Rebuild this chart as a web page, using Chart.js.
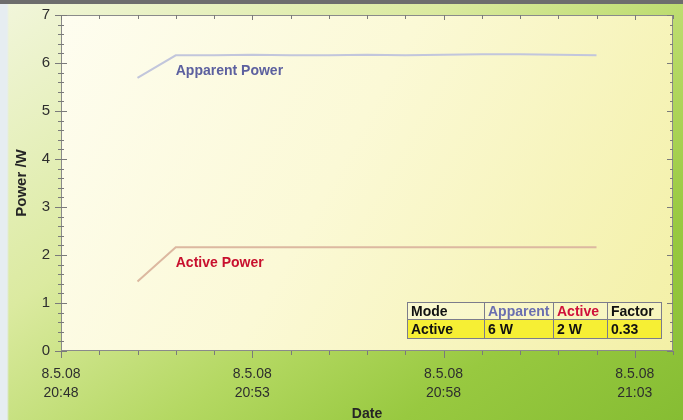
<!DOCTYPE html>
<html><head><meta charset="utf-8">
<script src="https://cdn.jsdelivr.net/npm/chart.js@4"></script>
<style>
html,body{margin:0;padding:0;}
body{width:683px;height:420px;overflow:hidden;position:relative;
 background:
  linear-gradient(to bottom,#6d6d6d 0,#6d6d6d 4px,rgba(0,0,0,0) 4px),
  linear-gradient(to right,#e6edf1 0,#e6edf1 7px,rgba(0,0,0,0) 9px),
  linear-gradient(145deg,#f2f6dc 0%,#dbeaa0 35%,#b4d862 60%,#98c940 78%,#86bd33 100%);
}
canvas{position:absolute;left:0;top:0;}
table{position:absolute;left:407px;top:302px;border-collapse:collapse;
 font:bold 14px Arial,"Liberation Sans",sans-serif;color:#111;}
td{border:1px solid #7c7c8c;padding:0 0 0 3px;box-sizing:border-box;white-space:nowrap;line-height:15px;}
tr.h td{height:17px;background:rgba(255,255,235,0.3);}
tr.v td{height:19px;background:#f6ef34;}
</style></head>
<body>
<canvas id="c" width="683" height="420"></canvas>
<table id="tbl"></table>
<script>
// ---- data ----
const startTime = '20:48';
const dateLabel = '8.5.08';
const times = ['20:50','20:51','20:52','20:53','20:54','20:55','20:56','20:57','20:58','20:59','21:00','21:01','21:02'];
const apparent = [5.69,6.16,6.16,6.17,6.16,6.16,6.17,6.16,6.17,6.18,6.18,6.17,6.16];
const active   = [1.45,2.16,2.16,2.16,2.16,2.16,2.16,2.16,2.16,2.16,2.16,2.16,2.16];
const xTickTimes = ['20:48','20:53','20:58','21:03'];
const yTicks = [0,1,2,3,4,5,6,7];
const seriesNames = ['Apparent Power','Active Power'];
const tableHeader = ['Mode','Apparent','Active','Factor'];
const tableRow = ['Active','6 W','2 W','0.33'];
const yTitle = 'Power /W';
const xTitle = 'Date';

// ---- helpers ----
const toMin = t => { const [h,m]=t.split(':').map(Number); return h*60+m; };
const t0 = toMin(startTime);
const rel = t => toMin(t)-t0;
const majorX = xTickTimes.map(rel);

const colApp = '#c2c6dc', colAct = '#dcb8a0';
const txtApp = '#5c609f', txtAct = '#c8102e';

// table
const tbl = document.getElementById('tbl');
const widths=[77,69,54,54];
const hr=document.createElement('tr'); hr.className='h';
tableHeader.forEach((h,i)=>{const td=document.createElement('td');td.textContent=h;td.style.width=widths[i]+'px';
 if(i===1)td.style.color='#6a6fb0'; if(i===2)td.style.color='#d0103a'; hr.appendChild(td);});
const vr=document.createElement('tr'); vr.className='v';
tableRow.forEach((v,i)=>{const td=document.createElement('td');td.textContent=v;td.style.width=widths[i]+'px';vr.appendChild(td);});
tbl.appendChild(hr); tbl.appendChild(vr);

const FONT = 'Arial, "Liberation Sans", sans-serif';
Chart.defaults.font.family = FONT;

const decor = {
  id:'decor',
  beforeDraw(chart){
    const {ctx, chartArea:a} = chart;
    const g = ctx.createLinearGradient(a.left,a.top,a.right,a.bottom);
    g.addColorStop(0,'#fefdf0'); g.addColorStop(0.45,'#fbf9d6'); g.addColorStop(1,'#f3f0a6');
    ctx.save(); ctx.fillStyle=g; ctx.fillRect(a.left,a.top,a.right-a.left,a.bottom-a.top); ctx.restore();
  },
  afterDraw(chart){
    const {ctx, chartArea:a, scales:{x,y}} = chart;
    ctx.save();
    ctx.strokeStyle='#8a8a8a'; ctx.lineWidth=1;
    ctx.strokeRect(a.left+0.5,a.top+0.5,a.right-a.left-1,a.bottom-a.top-1);
    ctx.strokeStyle='#7a7a7a';
    ctx.beginPath();
    for(let i=0;i<=35;i++){
      const v=i/5, p=Math.round(y.getPixelForValue(v))+0.5, maj=(i%5===0);
      ctx.moveTo(a.left-(maj?6:3),p); ctx.lineTo(a.left+(maj?6:3),p);
      ctx.moveTo(a.right-(maj?6:3),p); ctx.lineTo(a.right,p);
    }
    for(let m=0;m<=16;m++){
      const p=Math.round(x.getPixelForValue(m))+0.5, maj=majorX.includes(m);
      ctx.moveTo(p,a.bottom); ctx.lineTo(p,a.bottom+(maj?7:4));
      ctx.moveTo(p,a.top); ctx.lineTo(p,a.top+(maj?5:4));
    }
    ctx.stroke();
    ctx.font='bold 14px '+FONT; ctx.textBaseline='middle'; ctx.textAlign='left';
    const lx = x.getPixelForValue(rel(times[1]));
    ctx.fillStyle=txtApp; ctx.fillText(seriesNames[0], lx, y.getPixelForValue(apparent[1])+16);
    ctx.fillStyle=txtAct; ctx.fillText(seriesNames[1], lx, y.getPixelForValue(active[1])+16);
    ctx.restore();
  }
};

new Chart(document.getElementById('c'), {
  type:'line',
  data:{datasets:[
    {label:seriesNames[0], data:times.map((t,i)=>({x:rel(t),y:apparent[i]})), borderColor:colApp, borderWidth:2, pointRadius:0, tension:0},
    {label:seriesNames[1], data:times.map((t,i)=>({x:rel(t),y:active[i]})), borderColor:colAct, borderWidth:2, pointRadius:0, tension:0}
  ]},
  options:{
    responsive:false, animation:false, events:[],
    layout:{padding:{left:0,right:10,top:15,bottom:0}},
    plugins:{legend:{display:false},tooltip:{enabled:false}},
    scales:{
      x:{type:'linear', min:0, max:16,
        border:{display:false}, grid:{display:false, drawTicks:false},
        afterFit(s){ s.height=69; s.paddingLeft=0; s.paddingRight=0; },
        afterBuildTicks(s){ s.ticks = majorX.map(v=>({value:v})); },
        ticks:{autoSkip:false, maxRotation:0, padding:13, color:'#2e2e2e',
          font:{size:14, lineHeight:1.4},
          callback(v){ const i=majorX.indexOf(v); return i<0?'':[dateLabel, xTickTimes[i]]; }},
        title:{display:true, text:xTitle, color:'#262626', font:{size:14,weight:'bold'}, padding:{top:0,bottom:-3}}
      },
      y:{min:0, max:7,
        border:{display:false}, grid:{display:false, drawTicks:false},
        afterFit(s){ s.width=61; s.paddingTop=0; s.paddingBottom=0; },
        afterBuildTicks(s){ s.ticks = yTicks.map(v=>({value:v})); },
        ticks:{padding:11, color:'#2e2e2e', font:{size:15}, callback:v=>String(v)},
        title:{display:true, text:yTitle, color:'#262626', font:{size:15,weight:'bold'}, padding:{top:13,bottom:0}}
      }
    }
  },
  plugins:[decor]
});
</script>
</body></html>
